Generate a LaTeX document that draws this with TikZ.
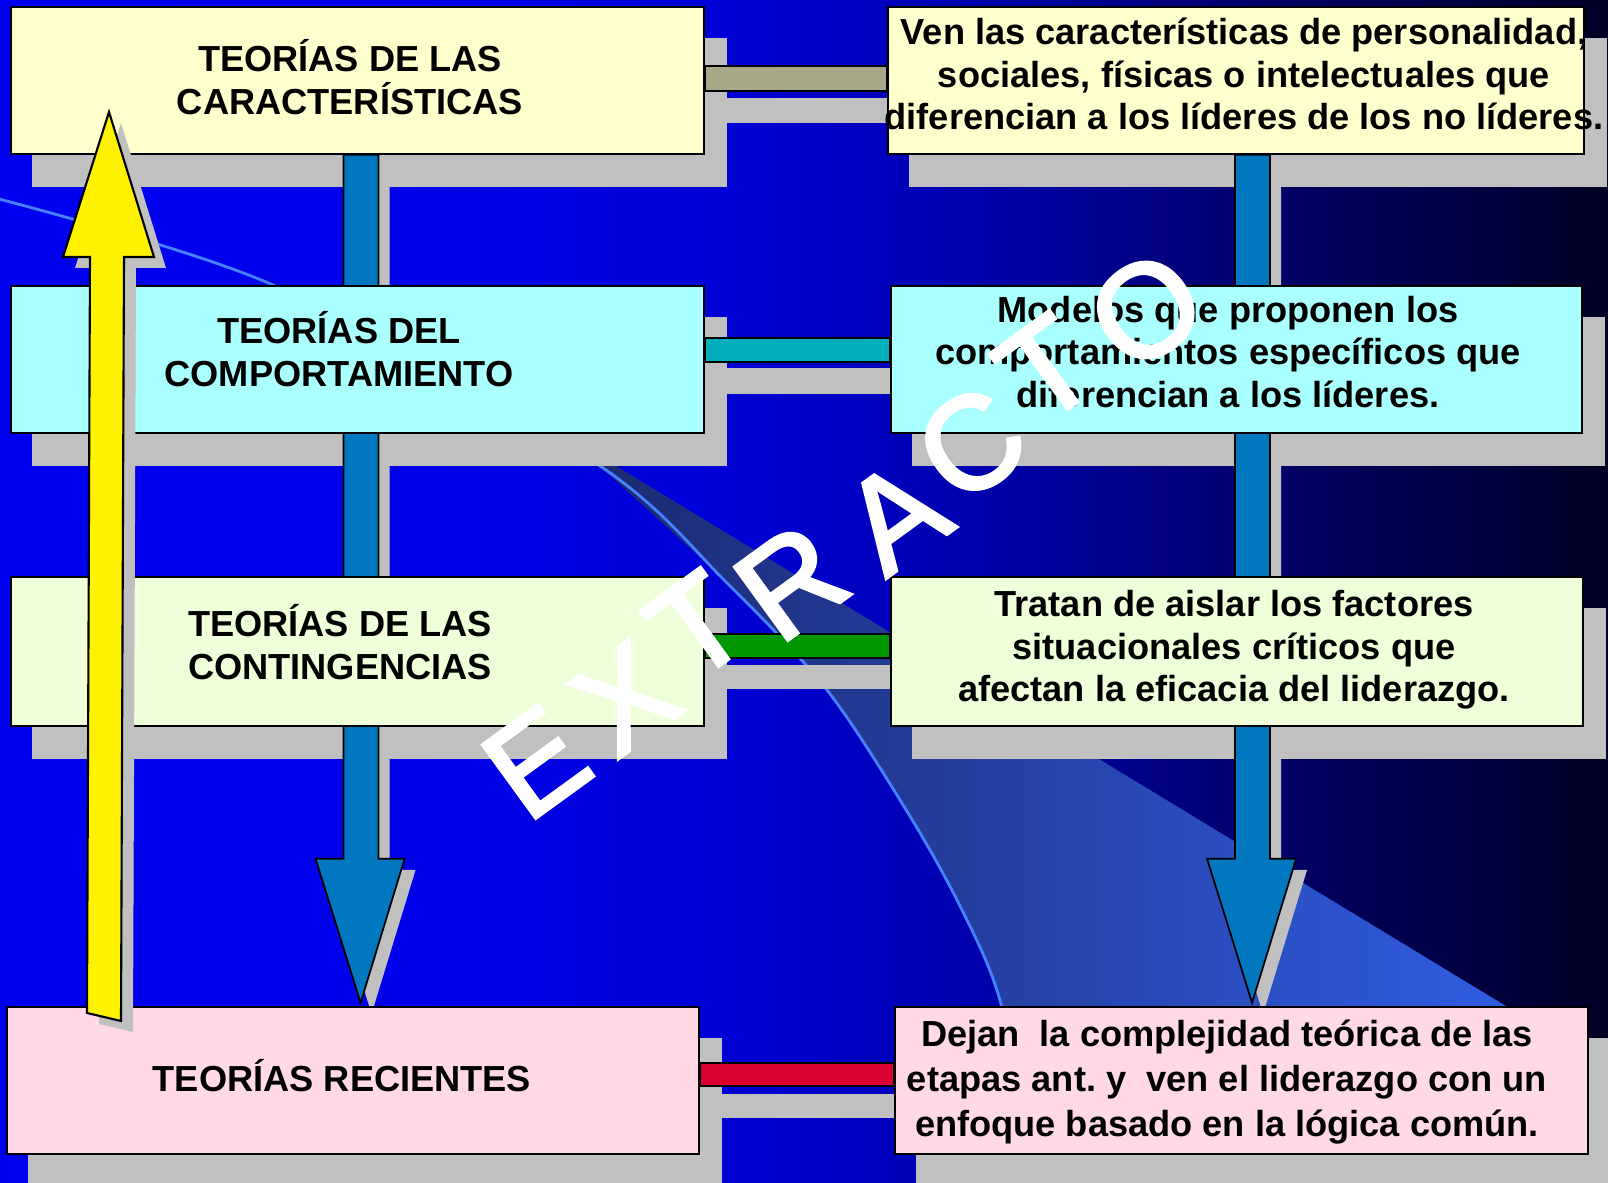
\documentclass[tikz,border=0pt]{standalone}
\usepackage{fontspec}
\setmainfont{Liberation Sans}
\newfontfamily\marcafont{Liberation Sans}[FakeBold=2.5]
\usetikzlibrary{calc}

\definecolor{amarillo}{RGB}{255,255,206}
\definecolor{celeste}{RGB}{170,255,255}
\definecolor{verdeclaro}{RGB}{238,255,218}
\definecolor{rosa}{RGB}{255,218,228}
\definecolor{gris}{RGB}{192,192,192}
\definecolor{azulflecha}{RGB}{0,119,190}
\definecolor{caqui}{RGB}{168,168,136}
\definecolor{turquesa}{RGB}{0,174,188}
\definecolor{verde}{RGB}{0,150,0}
\definecolor{rojo}{RGB}{218,0,48}
\definecolor{onda1}{RGB}{28,40,110}
\definecolor{onda2}{RGB}{50,98,238}
\definecolor{arcoclaro}{RGB}{70,130,255}

\pgfdeclarehorizontalshading{fondoazul}{100bp}{rgb(0bp)=(0,0,0.94); rgb(25bp)=(0,0,0.94); rgb(37.5bp)=(0,0,0.92); rgb(47.5bp)=(0,0,0.84); rgb(55bp)=(0,0,0.69); rgb(61bp)=(0,0,0.51); rgb(66bp)=(0,0,0.37); rgb(71bp)=(0,0,0.25); rgb(75bp)=(0,0,0.15); rgb(100bp)=(0,0,0.15)}

\pgfdeclarelayer{fondo}
\pgfdeclarelayer{sombras}
\pgfdeclarelayer{frente}
\pgfsetlayers{fondo,sombras,main,frente}

\begin{document}
\begin{tikzpicture}[
x                     = 0.01cm,
y                     = -0.01cm,
every node/.style     = {font=\fontsize{10.3}{12.1}\selectfont\bfseries},
caja/.style           = {draw, line width=0.5pt, anchor=north west, inner sep=0pt, minimum height=1.47cm},
texto/.style          = {align=center, inner sep=0pt},
barra/.style          = {draw, line width=0.4pt},
sombra/.style         = {fill=gris},
flechaazul/.style     = {fill=azulflecha, draw, line width=0.5pt},
flechaamarilla/.style = {fill=yellow, draw, line width=0.6pt},
marca/.style          = {text=white, font=\marcafont\fontsize{37.5}{37.5}\selectfont, rotate=36, inner sep=0pt},
arco/.style           = {draw=arcoclaro, line width=0.8pt}
]

\useasboundingbox (0,0) rectangle (1608,1183);

% cajas de la izquierda
\node [caja, fill=amarillo, minimum width=6.93cm] (c1) at (10,6) {};
\node [caja, fill=celeste, minimum width=6.93cm] (c2) at (10,285) {};
\node [caja, fill=verdeclaro, minimum width=6.93cm, minimum height=1.49cm] (c3) at (10,576) {};
\node [caja, fill=rosa, minimum width=6.92cm] (c4) at (6,1006) {};

% cajas de la derecha
\node [caja, fill=amarillo, minimum width=6.96cm] (r1) at (887,6) {};
\node [caja, fill=celeste, minimum width=6.91cm] (r2) at (890,285) {};
\node [caja, fill=verdeclaro, minimum width=6.92cm, minimum height=1.49cm] (r3) at (890,576) {};
\node [caja, fill=rosa, minimum width=6.93cm] (r4) at (894,1006) {};

% textos
\node [texto] (t1) at (350,77) {TEORÍAS DE LAS\\CARACTERÍSTICAS};
\node [texto] (t2) at (339,349) {TEORÍAS DEL\\COMPORTAMIENTO};
\node [texto] (t3) at (340,642) {TEORÍAS DE LAS\\CONTINGENCIAS};
\node [texto] (t4) at (342,1076) {TEORÍAS RECIENTES};
\node [texto] (s1) at (1244,74) {Ven las características de personalidad,\\sociales, físicas o intelectuales que\\diferencian a los líderes de los no líderes.};
\node [texto] (s2) at (1228,352) {Modelos que proponen los\\comportamientos específicos que\\diferencian a los líderes.};
\node [texto] (s3) at (1234,650) {Tratan de aislar los factores\\situacionales críticos que\\afectan la eficacia del liderazgo.};
\node [texto, font=\fontsize{10.3}{12.7}\selectfont\bfseries] (s4) at (1227,1082) {Dejan \ la complejidad teórica de las\\etapas ant.\ y \ ven el liderazgo con un\\enfoque basado en la lógica común.};

\begin{pgfonlayer}{fondo}
\shade [shading=fondoazul] (0,0) rectangle (1608,1183);
\shade [left color=onda1, right color=onda2] (560,432) -- (1608,1068) -- (1608,1183) -- plot [smooth] coordinates {(1035,1183) (1001,1004) (961,908) (908,813) (827,690) (727,583) (597,464) (560,432)} -- cycle;
\draw [arco] plot [smooth] coordinates {(-5,198) (273,285) (597,464) (727,583) (827,690) (908,813) (961,908) (1001,1004) (1035,1183)};
\end{pgfonlayer}

\begin{pgfonlayer}{sombras}
\foreach \n in {c1,c2,c3,c4,r1,r2,r3,r4}
  \fill [sombra] ([shift={(22,32)}]\n.north west) rectangle ([shift={(22,32)}]\n.south east);
% sombras de las barras
\fill [sombra] (c1.east |- 0,98) rectangle (r1.west |- 0,123);
\fill [sombra] (c2.east |- 0,368) rectangle (r2.west |- 0,394);
\fill [sombra] (c3.east |- 0,665) rectangle (r3.west |- 0,689);
\fill [sombra] (c4.east |- 0,1094) rectangle (r4.west |- 0,1118);
% barras
\draw [barra, fill=caqui] (c1.east |- 0,66) rectangle (r1.west |- 0,91);
\draw [barra, fill=turquesa] (c2.east |- 0,338) rectangle (r2.west |- 0,362);
\draw [barra, fill=verde] (c3.east |- 0,634) rectangle (r3.west |- 0,658);
\draw [barra, fill=rojo] (c4.east |- 0,1063) rectangle (r4.west |- 0,1086);
% flechas azules
\path (c1.south) ++(3,0) coordinate (fa) (r1.south) ++(16,0) coordinate (fb);
\fill [sombra] ([shift={(11,11)}]fa) ++(-17,0) -- ++(0,704) -- ++(-28,0) -- ++(45,144) -- ++(44,-144) -- ++(-26,0) -- ++(0,-704) -- cycle;
\fill [sombra] ([shift={(11,11)}]fb) ++(-17,0) -- ++(0,704) -- ++(-28,0) -- ++(45,144) -- ++(44,-144) -- ++(-26,0) -- ++(0,-704) -- cycle;
\draw [flechaazul] (fa) ++(-17,0) -- ++(0,704) -- ++(-28,0) -- ++(45,144) -- ++(44,-144) -- ++(-26,0) -- ++(0,-704) -- cycle;
\draw [flechaazul] (fb) ++(-17,0) -- ++(0,704) -- ++(-28,0) -- ++(45,144) -- ++(44,-144) -- ++(-26,0) -- ++(0,-704) -- cycle;
\end{pgfonlayer}

\begin{pgfonlayer}{frente}
% flecha amarilla
\path (c4.north west) ++(81,7) coordinate (ya);
\fill [sombra] ([shift={(12,11)}]ya) -- ++(3,-756) -- ++(-27,0) -- ++(46,-145) -- ++(45,145) -- ++(-30,0) -- ++(-3,764) -- cycle;
\draw [flechaamarilla] (ya) -- ++(3,-756) -- ++(-27,0) -- ++(46,-145) -- ++(45,145) -- ++(-30,0) -- ++(-3,764) -- cycle;
% marca de agua
\node [marca] (m1) at (536,762) {E};
\node [marca] (m2) at (625,698) {X};
\node [marca] (m3) at (697,626) {T};
\node [marca] (m4) at (791,582) {R};
\node [marca] (m5) at (895,516) {A};
\node [marca] (m6) at (971,444) {C};
\node [marca] (m7) at (1046,369) {T};
\node [marca] (m8) at (1146,310) {O};
\end{pgfonlayer}

\end{tikzpicture}
\end{document}
